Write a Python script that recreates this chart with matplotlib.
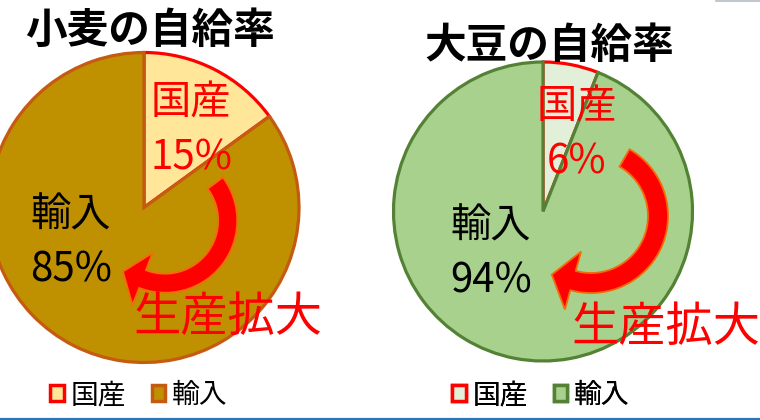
import matplotlib
matplotlib.use("Agg")
import matplotlib.pyplot as plt
import numpy as np
from matplotlib.patches import Patch, Polygon

plt.rcParams['font.family'] = ['Noto Sans CJK JP', 'DejaVu Sans']

# data
crops = ['小麦', '大豆']
categories = ['国産', '輸入']
domestic = [15, 6]
imported = [85, 94]
action = '生産拡大'

# colours per chart: (domestic fill, import fill, import edge)
fills = [('#FFE699', '#BF9000', '#C55A11'),
         ('#E2F0D9', '#A9D18E', '#548235')]

W, H = 760, 420


def curved_arrow(ax, cx, cy, r, width, a0, a1, head_w, head_len):
    # clockwise arc from a0 to a1 (degrees), with a head at a1
    t = np.radians(np.linspace(a0, a1, 80))
    outer = np.c_[cx + (r + width / 2) * np.cos(t), cy + (r + width / 2) * np.sin(t)]
    inner = np.c_[cx + (r - width / 2) * np.cos(t), cy + (r - width / 2) * np.sin(t)][::-1]
    te = t[-1]
    radial = np.array([np.cos(te), np.sin(te)])
    tangent = np.array([np.sin(te), -np.cos(te)])
    base = np.array([cx, cy]) + r * radial
    head = [base + head_w * radial, base + head_len * tangent, base - head_w * radial]
    verts = np.vstack([outer, head, inner])
    ax.add_patch(Polygon(verts, closed=True, fc='#FF0000', ec='#F46B08', lw=1.3, zorder=3))


fig = plt.figure(figsize=(7.6, 4.2), dpi=100)
ax = fig.add_axes([0, 0, 1, 1])

# per-chart placement (pixel coords, y measured from top)
centers = [(144, 207.5), (543, 211.5)]
radii = [155, 149.5]
title_pos = [(150, 31), (549, 46)]
dom_pos = [(191, 103), (577, 107)]
imp_pos = [(71, 215), (491, 226)]
act_pos = [(228, 318), (666, 328)]
legend_x = [139, 541]
arrows = [dict(cx=165, cy=220.5, r=62.7, width=19, a0=36.7, a1=-111, head_w=28, head_len=21),
          dict(cx=591, cy=216, r=67, width=20, a0=60, a1=-105.6, head_w=30, head_len=22)]

for i, crop in enumerate(crops):
    dom_c, imp_c, imp_edge = fills[i]
    cx, cy = centers[i]
    wedges, _ = ax.pie([domestic[i], imported[i]], colors=[dom_c, imp_c],
                       startangle=90, counterclock=False,
                       center=(cx, H - cy), radius=radii[i],
                       wedgeprops=dict(linewidth=2.3))
    wedges[0].set_edgecolor('#FF0000')
    wedges[1].set_edgecolor(imp_edge)

    ax.text(title_pos[i][0], H - title_pos[i][1], f'{crop}の自給率',
            fontsize=30, fontweight='bold', ha='center', va='center',
            color='black', zorder=5)

    x, y = dom_pos[i]
    ax.text(x, H - y, categories[0], fontsize=29, color='#FF0000',
            ha='center', va='center', zorder=5)
    ax.text(x, H - y - 55, f'{domestic[i]}%', fontsize=29, color='#FF0000',
            ha='center', va='center', zorder=5)
    x, y = imp_pos[i]
    ax.text(x, H - y, categories[1], fontsize=29, color='black',
            ha='center', va='center', zorder=5)
    ax.text(x, H - y - 55, f'{imported[i]}%', fontsize=29, color='black',
            ha='center', va='center', zorder=5)

    a = dict(arrows[i])
    a['cy'] = H - a['cy']
    curved_arrow(ax, **a)

    x, y = act_pos[i]
    ax.text(x, H - y, action, fontsize=34, color='#FF0000',
            ha='center', va='center', zorder=5)

    handles = [Patch(facecolor=dom_c, edgecolor='#FF0000', linewidth=2.5),
               Patch(facecolor=imp_c, edgecolor=imp_edge, linewidth=2.5)]
    leg = ax.legend(handles, categories, loc='center', ncol=2, frameon=False,
                    bbox_to_anchor=(legend_x[i], H - 395), bbox_transform=ax.transData,
                    fontsize=20, handlelength=0.5, handleheight=0.5,
                    handletextpad=0.25, columnspacing=0.9, borderpad=0)
    ax.add_artist(leg)

# frame lines of the original slide
ax.plot([0, W], [1.2, 1.2], color='#2E75B6', lw=1.6, zorder=6)
ax.plot([716, W], [H - 0.5, H - 0.5], color='#B4BCC8', lw=1.2, zorder=6)

ax.set_xlim(0, W)
ax.set_ylim(0, H)
ax.set_aspect('equal')
ax.axis('off')

fig.savefig('out.png', dpi=100)
